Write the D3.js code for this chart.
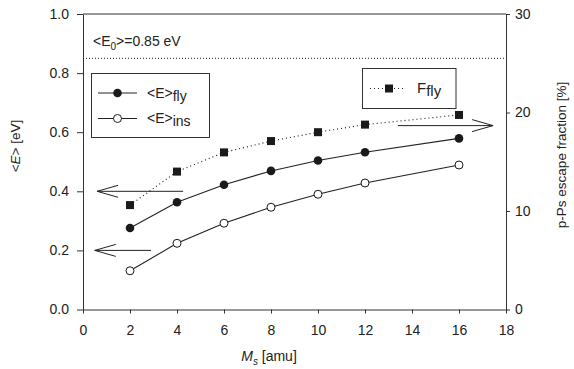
<!DOCTYPE html>
<html>
<head>
<meta charset="utf-8">
<script src="https://cdn.jsdelivr.net/npm/d3@7"></script>
<style>
  body { margin: 0; background: #fff; }
  svg text { font-family: "Liberation Sans", Arial, sans-serif; fill: #222; }
</style>
</head>
<body>
<svg id="chart" width="574" height="369"></svg>
<script>
// data
const massValues = [2, 4, 6, 8, 10, 12, 16];
const energyFly = [0.276, 0.363, 0.422, 0.469, 0.504, 0.532, 0.579];
const energyIns = [0.131, 0.224, 0.292, 0.346, 0.390, 0.428, 0.489];
const fractionFly = [10.6, 14.0, 15.95, 17.1, 18.0, 18.77, 19.75];
const e0Level = 0.85;
const xTicks = [0, 2, 4, 6, 8, 10, 12, 14, 16, 18];
const leftTicks = [0, 0.2, 0.4, 0.6, 0.8, 1.0];
const rightTicks = [0, 10, 20, 30];
// annotation arrows: [xFrom, xTo, y on left scale]
const arrowsLeft = [[4.26, 0.6, 0.4], [2.9, 0.5, 0.2]];
const arrowsRight = [[13.4, 17.45, 18.67]]; // y on right scale

const svg = d3.select("#chart");
const plotL = 83, plotR = 506, plotT = 14, plotB = 309.5;

const x = d3.scaleLinear().domain([0, 18]).range([plotL, plotR]);
const yL = d3.scaleLinear().domain([0, 1]).range([plotB, plotT]);
const yR = d3.scaleLinear().domain([0, 30]).range([plotB, plotT]);
const axisColor = "#333";

// frame top line
svg.append("line")
    .attr("x1", plotL).attr("x2", plotR).attr("y1", plotT).attr("y2", plotT)
    .attr("stroke", axisColor).attr("stroke-width", 1);

const styleAxis = (g) => {
    g.selectAll("path, line").attr("stroke", axisColor);
    g.selectAll("text").attr("font-size", 14).attr("fill", "#222")
        .attr("font-family", "Liberation Sans, Arial, sans-serif");
};

svg.append("g")
    .attr("transform", `translate(0, ${plotB})`)
    .call(d3.axisBottom(x).tickValues(xTicks).tickSize(4).tickSizeOuter(0).tickPadding(12))
    .call(styleAxis);

svg.append("g")
    .attr("transform", `translate(${plotL}, 0)`)
    .call(d3.axisLeft(yL).tickValues(leftTicks).tickFormat(d3.format(".1f")).tickSize(6).tickSizeOuter(0).tickPadding(8))
    .call(styleAxis);

svg.append("g")
    .attr("transform", `translate(${plotR}, 0)`)
    .call(d3.axisRight(yR).tickValues(rightTicks).tickSize(4).tickSizeOuter(0).tickPadding(5))
    .call(styleAxis);

// axis titles
const yTitle = svg.append("text")
    .attr("transform", "translate(20, 146) rotate(-90)")
    .attr("text-anchor", "middle").attr("font-size", 13.5);
yTitle.append("tspan").text("<");
yTitle.append("tspan").attr("font-style", "italic").text("E");
yTitle.append("tspan").text("> [eV]");

svg.append("text")
    .attr("transform", "translate(566, 155) rotate(-90)")
    .attr("text-anchor", "middle").attr("font-size", 13.5)
    .text("p-Ps escape fraction [%]");

const xTitle = svg.append("text")
    .attr("x", 269).attr("y", 361)
    .attr("text-anchor", "middle").attr("font-size", 14);
xTitle.append("tspan").attr("font-style", "italic").text("M");
xTitle.append("tspan").attr("font-style", "italic").attr("font-size", 10).attr("dy", 4).text("s");
xTitle.append("tspan").attr("dy", -4).text(" [amu]");

// E0 reference line
svg.append("line")
    .attr("x1", plotL).attr("x2", plotR)
    .attr("y1", yL(e0Level)).attr("y2", yL(e0Level))
    .attr("stroke", "#222").attr("stroke-width", 1).attr("stroke-dasharray", "1,2");

const e0Text = svg.append("text").attr("x", 93).attr("y", 46).attr("font-size", 14);
e0Text.append("tspan").text("<E");
e0Text.append("tspan").attr("font-size", 10).attr("dy", 4).text("0");
e0Text.append("tspan").attr("dy", -4).text(">=0.85 eV");

// series lines
const lineL = (vals) => d3.line().x((d, i) => x(massValues[i])).y((d) => yL(d))(vals);
const lineR = (vals) => d3.line().x((d, i) => x(massValues[i])).y((d) => yR(d))(vals);

svg.append("path").attr("d", lineR(fractionFly)).attr("fill", "none")
    .attr("stroke", "#222").attr("stroke-width", 1.2).attr("stroke-dasharray", "1,3");
svg.append("path").attr("d", lineL(energyFly)).attr("fill", "none")
    .attr("stroke", "#222").attr("stroke-width", 1.1);
svg.append("path").attr("d", lineL(energyIns)).attr("fill", "none")
    .attr("stroke", "#222").attr("stroke-width", 1.1);

// markers
svg.selectAll(".sq").data(fractionFly).enter().append("rect")
    .attr("x", (d, i) => x(massValues[i]) - 4).attr("y", (d) => yR(d) - 4)
    .attr("width", 8).attr("height", 8).attr("fill", "#1a1a1a");
svg.selectAll(".fly").data(energyFly).enter().append("circle")
    .attr("cx", (d, i) => x(massValues[i])).attr("cy", (d) => yL(d))
    .attr("r", 4.3).attr("fill", "#1a1a1a");
svg.selectAll(".ins").data(energyIns).enter().append("circle")
    .attr("cx", (d, i) => x(massValues[i])).attr("cy", (d) => yL(d))
    .attr("r", 4).attr("fill", "#fff").attr("stroke", "#1a1a1a").attr("stroke-width", 1);

// arrows
const drawArrow = (x1, x2, yy) => {
    const dir = x2 > x1 ? -1 : 1;
    const g = svg.append("g").attr("stroke", "#222").attr("stroke-width", 1).attr("fill", "none");
    g.append("line").attr("x1", x1).attr("x2", x2).attr("y1", yy).attr("y2", yy);
    g.append("polyline").attr("points", `${x2 + dir * 21},${yy - 6} ${x2},${yy} ${x2 + dir * 21},${yy + 6}`);
};
arrowsLeft.forEach(([a, b, v]) => drawArrow(x(a), x(b), yL(v)));
arrowsRight.forEach(([a, b, v]) => drawArrow(x(a), x(b), yR(v)));

// left legend
const lg = svg.append("g");
lg.append("rect").attr("x", 91.5).attr("y", 73.5).attr("width", 118).attr("height", 64)
    .attr("fill", "#fff").attr("stroke", "#333").attr("stroke-width", 1);
lg.append("line").attr("x1", 98).attr("x2", 137).attr("y1", 93).attr("y2", 93).attr("stroke", "#222");
lg.append("circle").attr("cx", 117.5).attr("cy", 93).attr("r", 4.3).attr("fill", "#1a1a1a");
lg.append("line").attr("x1", 98).attr("x2", 137).attr("y1", 118.5).attr("y2", 118.5).attr("stroke", "#222");
lg.append("circle").attr("cx", 117.5).attr("cy", 118.5).attr("r", 4).attr("fill", "#fff").attr("stroke", "#1a1a1a");
const t1 = lg.append("text").attr("x", 147).attr("y", 98).attr("font-size", 14);
t1.append("tspan").text("<E>");
t1.append("tspan").attr("dy", 3).text("fly");
const t2 = lg.append("text").attr("x", 147).attr("y", 123).attr("font-size", 14);
t2.append("tspan").text("<E>");
t2.append("tspan").attr("dy", 3).text("ins");

// right legend
const rg = svg.append("g");
rg.append("rect").attr("x", 362.5).attr("y", 68.5).attr("width", 93.5).attr("height", 40)
    .attr("fill", "#fff").attr("stroke", "#333").attr("stroke-width", 1);
rg.append("line").attr("x1", 370).attr("x2", 406).attr("y1", 88.5).attr("y2", 88.5)
    .attr("stroke", "#222").attr("stroke-width", 1.2).attr("stroke-dasharray", "1,3");
rg.append("rect").attr("x", 385).attr("y", 84.5).attr("width", 8).attr("height", 8).attr("fill", "#1a1a1a");
const t3 = rg.append("text").attr("x", 417).attr("y", 93).attr("font-size", 15);
t3.append("tspan").text("F");
t3.append("tspan").attr("dy", 3).text("fly");
</script>
</body>
</html>
